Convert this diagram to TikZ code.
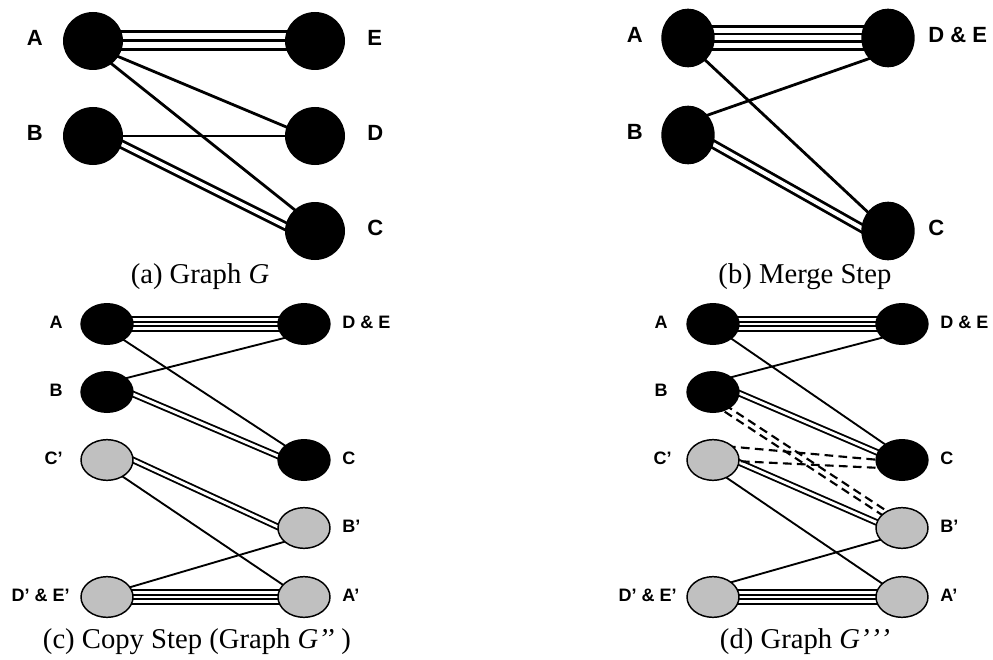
\documentclass[tikz,border=0pt]{standalone}
\usepackage{fontspec}
\setmainfont{Liberation Serif}
\setsansfont{Liberation Sans}
\usetikzlibrary{shapes.geometric, backgrounds}

\begin{document}
\begin{tikzpicture}[x=0.75pt, y=-0.75pt,
    bigNode/.style={ellipse, fill=black, inner sep=0pt},
    smallNode/.style={ellipse, fill=black, inner sep=0pt, minimum width=40pt, minimum height=31.5pt},
    copyNode/.style={ellipse, draw=black, fill=copyFill, line width=1.1pt, inner sep=0pt, minimum width=39pt, minimum height=30.5pt},
    bigLbl/.style={font=\sffamily\bfseries\fontsize{16.5}{19}\selectfont, inner sep=0pt, text height=0.72em, text depth=0pt},
    smallLbl/.style={font=\sffamily\bfseries\fontsize{13.5}{16}\selectfont, inner sep=0pt, text height=0.72em, text depth=0pt},
    caption/.style={font=\fontsize{21.5}{24}\selectfont, inner sep=0pt, anchor=base},
    thickLine/.style={line width=2.1pt},
    thinLine/.style={line width=1.4pt},
    dashLine/.style={line width=1.6pt, dash pattern=on 6.5pt off 4pt}]

    % Define colours
    \definecolor{copyFill}{HTML}{C0C0C0}

    % Page size
    \useasboundingbox (0,0) rectangle (993,660);

    % Graph G
    \node[bigNode, minimum width=45pt, minimum height=43.5pt] (aA) at (93,41) {};
    \node[bigNode, minimum width=45pt, minimum height=43.5pt] (aB) at (93,136) {};
    \node[bigNode, minimum width=45pt, minimum height=43.5pt] (aE) at (315,41) {};
    \node[bigNode, minimum width=45pt, minimum height=43.5pt] (aD) at (315,136) {};
    \node[bigNode, minimum width=45pt, minimum height=43.5pt] (aC) at (315,231) {};

    \node[bigLbl, anchor=east] (aLblA) at (43,41) {A};
    \node[bigLbl, anchor=east] (aLblB) at (43,136) {B};
    \node[bigLbl, anchor=west] (aLblE) at (367,41) {E};
    \node[bigLbl, anchor=west] (aLblD) at (367,136) {D};
    \node[bigLbl, anchor=west] (aLblC) at (367,231) {C};

    \node[caption] (aCap) at (200,283) {(a) Graph \textit{G}};

    % Merge step
    \node[bigNode, minimum width=40pt, minimum height=44pt] (bA) at (688,38) {};
    \node[bigNode, minimum width=40pt, minimum height=44pt] (bB) at (688,135) {};
    \node[bigNode, minimum width=40pt, minimum height=44pt] (bDE) at (888,38) {};
    \node[bigNode, minimum width=40pt, minimum height=44pt] (bC) at (888,231) {};

    \node[bigLbl, anchor=east] (bLblA) at (643,38) {A};
    \node[bigLbl, anchor=east] (bLblB) at (643,135) {B};
    \node[bigLbl, anchor=west] (bLblDE) at (928,38) {D \& E};
    \node[bigLbl, anchor=west] (bLblC) at (928,231) {C};

    \node[caption] (bCap) at (805,283) {(b) Merge Step};

    % Copy step
    \node[smallNode] (cA) at (107,324) {};
    \node[smallNode] (cB) at (107,392) {};
    \node[copyNode] (cCp) at (107,460) {};
    \node[copyNode] (cDEp) at (107,597) {};
    \node[smallNode] (cDE) at (304,324) {};
    \node[smallNode] (cC) at (304,460) {};
    \node[copyNode] (cBp) at (304,528) {};
    \node[copyNode] (cAp) at (304,597) {};

    \node[smallLbl, anchor=east] (cLblA) at (63,324) {A};
    \node[smallLbl, anchor=east] (cLblB) at (63,392) {B};
    \node[smallLbl, anchor=east] (cLblCp) at (63,460) {C’};
    \node[smallLbl, anchor=east] (cLblDEp) at (70,597) {D’ \& E’};
    \node[smallLbl, anchor=west] (cLblDE) at (342,324) {D \& E};
    \node[smallLbl, anchor=west] (cLblC) at (342,460) {C};
    \node[smallLbl, anchor=west] (cLblBp) at (342,528) {B’};
    \node[smallLbl, anchor=west] (cLblAp) at (342,597) {A’};

    \node[caption] (cCap) at (197,648) {(c) Copy Step (Graph \textit{G’’} )};

    % Graph G'''
    \node[smallNode] (dA) at (713,324) {};
    \node[smallNode] (dB) at (713,392) {};
    \node[copyNode] (dCp) at (713,460) {};
    \node[copyNode] (dDEp) at (713,597) {};
    \node[smallNode] (dDE) at (902,324) {};
    \node[smallNode] (dC) at (902,460) {};
    \node[copyNode] (dBp) at (902,528) {};
    \node[copyNode] (dAp) at (902,597) {};

    \node[smallLbl, anchor=east] (dLblA) at (668,324) {A};
    \node[smallLbl, anchor=east] (dLblB) at (668,392) {B};
    \node[smallLbl, anchor=east] (dLblCp) at (672,460) {C’};
    \node[smallLbl, anchor=east] (dLblDEp) at (677,597) {D’ \& E’};
    \node[smallLbl, anchor=west] (dLblDE) at (940,324) {D \& E};
    \node[smallLbl, anchor=west] (dLblC) at (940,460) {C};
    \node[smallLbl, anchor=west] (dLblBp) at (940,528) {B’};
    \node[smallLbl, anchor=west] (dLblAp) at (940,597) {A’};

    \node[caption] (dCap) at (805,648) {(d) Graph \textit{G’\kern0.5pt’\kern0.5pt’}};

    % Edges go under the nodes
    \begin{scope}[on background layer]
        % Graph G: three edges A--E, two edges B--C
        \draw[thickLine, line width=2.25pt, double, double distance=11.25pt] (aA.center) -- (aE.center);
        \draw[thickLine, line width=2.25pt] (aA.center) -- (aE.center);
        \draw[thickLine, double, double distance=3pt] ([shift={(0,-6)}]aB.center) -- ([shift={(0,10)}]aC.center);
        \draw[thickLine] ([shift={(0,5)}]aA.center) -- ([shift={(0,3)}]aD.center);
        \draw[thickLine] ([shift={(0,8)}]aA.center) -- ([shift={(0,-5)}]aC.center);
        \draw[thickLine] (aB.center) -- (aD.center);

        % Merge step: four edges A--D&E
        \draw[thickLine, double, double distance=15pt] (bA.center) -- (bDE.center);
        \draw[thickLine, double, double distance=3.75pt] (bA.center) -- (bDE.center);
        \draw[thickLine, double, double distance=3pt] ([shift={(0,-5)}]bB.center) -- ([shift={(0,12)}]bC.center);
        \draw[thickLine] ([shift={(0,6)}]bA.center) -- (bC.center);
        \draw[thickLine] ([shift={(0,-13)}]bB.center) -- ([shift={(0,14)}]bDE.center);

        % Copy step
        \draw[thinLine, double, double distance=9.3pt] (cA.center) -- (cDE.center);
        \draw[thinLine, double, double distance=2.2pt] (cA.center) -- (cDE.center);
        \draw[thinLine, double, double distance=9.3pt] (cDEp.center) -- (cAp.center);
        \draw[thinLine, double, double distance=2.2pt] (cDEp.center) -- (cAp.center);
        \draw[thinLine, double, double distance=2.2pt] ([shift={(0,-9)}]cB.center) -- ([shift={(0,7)}]cC.center);
        \draw[thinLine, double, double distance=2.2pt] ([shift={(0,-12)}]cCp.center) -- ([shift={(0,11)}]cBp.center);
        \draw[thinLine] ([shift={(0,5)}]cA.center) -- ([shift={(0,-2)}]cC.center);
        \draw[thinLine] ([shift={(0,-9)}]cB.center) -- ([shift={(0,9)}]cDE.center);
        \draw[thinLine] ([shift={(0,6)}]cCp.center) -- ([shift={(0,2)}]cAp.center);
        \draw[thinLine] ([shift={(0,-3)}]cDEp.center) -- ([shift={(0,8)}]cBp.center);

        % Graph G'''
        \draw[thinLine, double, double distance=9.3pt] (dA.center) -- (dDE.center);
        \draw[thinLine, double, double distance=2.2pt] (dA.center) -- (dDE.center);
        \draw[thinLine, double, double distance=9.3pt] (dDEp.center) -- (dAp.center);
        \draw[thinLine, double, double distance=2.2pt] (dDEp.center) -- (dAp.center);
        \draw[thinLine, double, double distance=2.2pt] ([shift={(0,-10)}]dB.center) -- ([shift={(0,3)}]dC.center);
        \draw[thinLine, double, double distance=2.2pt] ([shift={(0,-9)}]dCp.center) -- ([shift={(0,5.5)}]dBp.center);
        \draw[thinLine] ([shift={(0,2)}]dA.center) -- ([shift={(0,-4)}]dC.center);
        \draw[thinLine] ([shift={(0,-10)}]dB.center) -- ([shift={(0,8.5)}]dDE.center);
        \draw[thinLine] ([shift={(0,8.5)}]dCp.center) -- (dAp.center);
        \draw[thinLine] ([shift={(0,-9.6)}]dDEp.center) -- ([shift={(0,5.7)}]dBp.center);

        % new edges, dashed
        \draw[dashLine] ([shift={(0,5)}]dB.center) -- ([shift={(0,-7)}]dBp.center);
        \draw[dashLine] ([shift={(0,12)}]dB.center) -- (dBp.center);
        \draw[dashLine] ([shift={(0,-15)}]dCp.center) -- ([shift={(0,2)}]dC.center);
        \draw[dashLine] (dCp.center) -- ([shift={(0,9)}]dC.center);
    \end{scope}

\end{tikzpicture}
\end{document}
